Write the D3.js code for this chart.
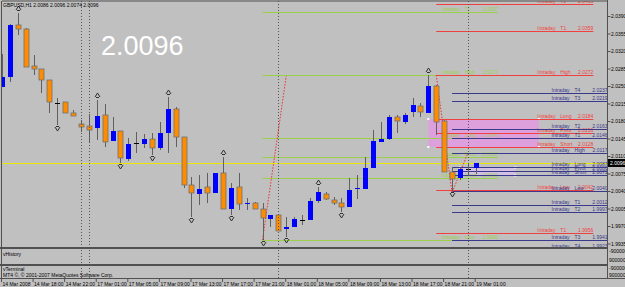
<html>
<head>
  <title>GBPUSD H1</title>
  <meta charset="utf-8" />
<script src="https://d3js.org/d3.v7.min.js"></script>
</head>
<style>
  body { margin: 0; background: #c0c0c0; }
  svg { display: block; font-family: "Liberation Sans", Arial, sans-serif; }
</style>
<body>
<svg class="main" width="625" height="287"></svg>
<script>

// H1 bars, 14 Mar 2008 14:00 .. 19 Mar 2008 01:00
const opens  = [2.0248,2.0268,2.0372,2.0364,2.0290,2.0284,2.0262,2.0216,2.0218,2.0196,2.0174,2.0170,2.0166,2.0192,2.0140,2.0160,2.0104,2.0136,2.0134,2.0144,2.0126,2.0156,2.0204,2.0148,2.0052,2.0034,2.0048,2.0036,2.0076,2.0004,2.0048,2.0014,2.0016,2.0004,1.9984,1.9992,1.9964,1.9968,1.9982,1.9982,2.0020,2.0034,2.0022,2.0016,2.0008,2.0045,2.0044,2.0086,2.0138,2.0144,2.0188,2.0178,2.0198,2.0210,2.0196,2.0250,2.0180,2.0078,2.0066,2.0084,2.0086]
const highs  = [2.0314,2.0374,2.0396,2.0366,2.0312,2.0284,2.0262,2.0226,2.0218,2.0202,2.0182,2.0194,2.0222,2.0214,2.0188,2.0160,2.0146,2.0158,2.0154,2.0156,2.0178,2.0228,2.0208,2.0148,2.0068,2.0072,2.0076,2.0076,2.0108,2.0056,2.0076,2.0026,2.0018,2.0016,1.9992,1.9994,1.9988,1.9988,1.9992,2.0026,2.0048,2.0038,2.0028,2.0026,2.0066,2.0072,2.0108,2.0162,2.0178,2.0192,2.0192,2.0196,2.0226,2.0216,2.0272,2.0252,2.0182,2.0088,2.0086,2.0094,2.0096]
const lows   = [2.0248,2.0258,2.0352,2.0288,2.0272,2.0236,2.0196,2.0172,2.0196,2.0190,2.0158,2.0136,2.0142,2.0128,2.0140,2.0096,2.0100,2.0116,2.0126,2.0112,2.0122,2.0116,2.0128,2.0046,1.9988,2.0012,2.0016,2.0036,2.0004,1.9992,2.0002,2.0002,2.0004,1.9942,1.9968,1.9960,1.9948,1.9968,1.9972,1.9982,2.0016,2.0022,2.0012,1.9998,2.0008,2.0024,2.0044,2.0086,2.0138,2.0142,2.0156,2.0174,2.0188,2.0188,2.0196,2.0152,2.0078,2.0040,2.0062,2.0070,2.0074]
const closes = [2.0268,2.0372,2.0364,2.0288,2.0284,2.0262,2.0218,2.0216,2.0196,2.0190,2.0168,2.0162,2.0190,2.0138,2.0160,2.0106,2.0134,2.0136,2.0144,2.0126,2.0156,2.0204,2.0148,2.0052,2.0036,2.0044,2.0036,2.0076,2.0004,2.0046,2.0014,2.0016,2.0004,1.9986,1.9992,1.9960,1.9968,1.9984,1.9982,2.0020,2.0038,2.0024,2.0016,2.0008,2.0042,2.0046,2.0086,2.0140,2.0144,2.0188,2.0180,2.0192,2.0212,2.0198,2.0250,2.0178,2.0078,2.0064,2.0084,2.0084,2.0096]

const fractalUp   = [2, 12, 21, 28, 40, 54]
const fractalDown = [7, 15, 19, 24, 29, 33, 36, 43, 57]
const separators  = [10, 11, 35, 59]

const timeTicks  = [0, 4, 8, 12, 16, 20, 24, 28, 32, 36, 40, 44, 48, 52, 56, 60]
const timeLabels = ["14 Mar 2008","14 Mar 18:00","14 Mar 22:00","17 Mar 01:00","17 Mar 05:00","17 Mar 09:00","17 Mar 13:00","17 Mar 17:00","17 Mar 21:00","18 Mar 01:00","18 Mar 05:00","18 Mar 09:00","18 Mar 13:00","18 Mar 17:00","18 Mar 21:00","19 Mar 01:00"]
const priceTicks = [2.0390, 2.0355, 2.0320, 2.0285, 2.0250, 2.0215, 2.0180, 2.0145, 2.0110, 2.0075, 2.0040, 2.0005, 1.9970, 1.9935]

// pivot levels: previous range (green), yesterday (red), today (blue)
const greenNames  = ["T1", "High", "Long", "Pivot", "Short", "Low"]
const greenPrices = [2.0397, 2.0272, 2.0146, 2.0107, 2.0066, 1.9942]
const redNames    = ["T2", "T1", "High", "Long", "Pivot", "Short", "Low", "T1"]
const redPrices   = [2.0413, 2.0359, 2.0272, 2.0184, 2.0156, 2.0128, 2.0042, 1.9956]
const blueNames   = ["T4", "T3", "T2", "T1", "High", "Long", "Pivot", "Short", "Low", "T1", "T2", "T3", "T4"]
const bluePrices  = [2.0237, 2.0219, 2.0163, 2.0146, 2.0117, 2.0087, 2.0080, 2.0071, 2.0040, 2.0012, 1.9997, 1.9941, 1.9923]

const zigzag1 = [[33, 1.9942], [36, 2.0270]]
const zigzag2 = [[55, 2.0272], [57, 2.0036], [59, 2.0116]]

const bid = 2.0096
const header = "GBPUSD,H1  2.0086 2.0096 2.0074 2.0096"

const L = 2, R = 607, T = 1, B = 247
const fs = "5px"

const svg = d3.select("svg")
const x = d3.scaleLinear().domain([0, 60]).range([2, 475.7])
const y = d3.scaleLinear().domain([1.9928, 2.0422]).range([B, 0])

svg.append("defs").append("clipPath").attr("id", "clipMain")
  .append("rect").attr("x", L).attr("y", T).attr("width", R - L).attr("height", B - T)

const main = svg.append("g").attr("clip-path", "url(#clipMain)")

// big bid text
main.append("text")
  .attr("x", 101).attr("y", 55)
  .style("font-size", "27px").style("fill", "#fff")
  .text(d3.format(".4f")(bid))

// period separators
svg.selectAll("line.sep")
  .data(separators)
  .enter()
  .append("line")
  .attr("x1", d => Math.round(x(d)) + 0.5)
  .attr("x2", d => Math.round(x(d)) + 0.5)
  .attr("y1", T).attr("y2", 278)
  .style("stroke", "#555")
  .style("stroke-dasharray", "1,2")

// level boxes
const box1 = { from: 54, to: 68, top: 2.0184, bottom: 2.0128 }
const box2 = { from: 58, to: 65, top: 2.0087, bottom: 2.0071 }
main.append("rect")
  .attr("x", x(box1.from)).attr("width", x(box1.to) - x(box1.from))
  .attr("y", y(box1.top)).attr("height", y(box1.bottom) - y(box1.top))
  .style("fill", "#dda0dd")
main.append("rect")
  .attr("x", x(box2.from)).attr("width", x(box2.to) - x(box2.from))
  .attr("y", y(box2.top)).attr("height", y(box2.bottom) - y(box2.top))
  .style("fill", "#d4c0e4")
const corners = [[box1.from, box1.top], [box1.to, box1.top], [box1.from, box1.bottom], [box1.to, box1.bottom],
                 [box2.from, box2.top], [box2.to, box2.top], [box2.from, box2.bottom], [box2.to, box2.bottom]]
main.selectAll("rect.corner")
  .data(corners)
  .enter()
  .append("rect")
  .attr("x", d => x(d[0]) - 1).attr("y", d => y(d[1]) - 1)
  .attr("width", 2).attr("height", 2)
  .style("fill", "#fff")

// bid line
main.append("line")
  .attr("x1", L).attr("x2", R)
  .attr("y1", Math.round(y(bid)) + 0.5).attr("y2", Math.round(y(bid)) + 0.5)
  .style("stroke", "#e8e800")

function levels(names, prices, from, to, color, cls) {
  const g = main.append("g").attr("class", cls)
  const ex = x(to)
  g.selectAll("line")
    .data(prices)
    .enter()
    .append("line")
    .attr("x1", x(from)).attr("x2", ex)
    .attr("y1", d => Math.round(y(d)) + 0.5)
    .attr("y2", d => Math.round(y(d)) + 0.5)
    .style("stroke", color)
  const t = g.selectAll("g.lab")
    .data(prices)
    .enter()
    .append("g")
    .attr("transform", d => `translate(0,${Math.round(y(d)) - 1})`)
    .style("font-size", fs)
    .style("fill", color)
  t.append("text").attr("x", ex - 56).text("Intraday")
  t.append("text").attr("x", ex - 33).text((d, i) => names[i])
  t.append("text").attr("x", ex).attr("text-anchor", "end").text(d => d3.format(".4f")(d))
}

levels(greenNames, greenPrices, 33, 62.8, "#9ad04a", "green")
levels(redNames, redPrices, 55, 74.9, "#f04040", "red")
levels(blueNames, bluePrices, 57, 76.7, "#3a3a8c", "blue")

// zigzag
const zz = d3.line().x(d => x(d[0])).y(d => y(d[1]))
;[zigzag1, zigzag2].forEach(z => {
  main.append("path")
    .attr("d", zz(z))
    .style("fill", "none")
    .style("stroke", "#f03030")
    .style("stroke-dasharray", "1.5,1.5")
})

// candles
const bars = main.selectAll("g.bar")
  .data(opens)
  .enter()
  .append("g")
  .attr("class", "bar")

bars.append("line")
  .attr("x1", (d, i) => Math.round(x(i)) + 0.5)
  .attr("x2", (d, i) => Math.round(x(i)) + 0.5)
  .attr("y1", (d, i) => y(highs[i]))
  .attr("y2", (d, i) => y(lows[i]))
  .style("stroke", "#606060")

bars.append("rect")
  .attr("x", (d, i) => Math.round(x(i)) - 2)
  .attr("width", 5)
  .attr("y", (d, i) => Math.min(y(opens[i]), y(closes[i])))
  .attr("height", (d, i) => Math.max(1, Math.abs(y(opens[i]) - y(closes[i]))))
  .style("fill", (d, i) => closes[i] > opens[i] ? "#0000ff" : closes[i] < opens[i] ? "#ff8c00" : "#000")
  .style("stroke", (d, i) => closes[i] < opens[i] ? "#707070" : "none")
  .style("stroke-width", 0.8)

// fractals
main.selectAll("path.fu")
  .data(fractalUp)
  .enter()
  .append("path")
  .attr("transform", d => `translate(${Math.round(x(d)) + 0.5},${y(highs[d]) - 5})`)
  .attr("d", "M-2.5,2 L0,-2 L2.5,2 M-1.5,2.5 L1.5,2.5")
  .style("fill", "none").style("stroke", "#303030").style("stroke-width", 1)

main.selectAll("path.fd")
  .data(fractalDown)
  .enter()
  .append("path")
  .attr("transform", d => `translate(${Math.round(x(d)) + 0.5},${y(lows[d]) + 4})`)
  .attr("d", "M-2.5,-2 L0,2 L2.5,-2 M-1.5,-2.5 L1.5,-2.5")
  .style("fill", "none").style("stroke", "#303030").style("stroke-width", 1)

// header
svg.append("text").attr("x", 3).attr("y", 7)
  .style("font-size", fs).style("fill", "#000")
  .text(header)

// frames and sub windows
const frame = svg.append("g").style("stroke", "#505050").style("fill", "none")
frame.append("line").attr("x1", L).attr("x2", R).attr("y1", 1).attr("y2", 1)
frame.append("line").attr("x1", 1.5).attr("x2", 1.5).attr("y1", 1).attr("y2", 278)
frame.append("line").attr("x1", 0).attr("x2", R).attr("y1", 248).attr("y2", 248).style("stroke-width", 2)
frame.append("line").attr("x1", 0).attr("x2", R).attr("y1", 265).attr("y2", 265).style("stroke-width", 2)
frame.append("line").attr("x1", 0).attr("x2", 625).attr("y1", 278.5).attr("y2", 278.5)

svg.append("text").attr("x", 3).attr("y", 256).style("font-size", fs).text("vHistory")
svg.append("text").attr("x", 3).attr("y", 271).style("font-size", fs).text("vTerminal")
svg.append("text").attr("x", 3).attr("y", 276.5).style("font-size", fs).text("MT4 ©, © 2001-2007 MetaQuotes Software Corp.")

// price axis
const yAxis = d3.axisRight(y)
  .tickValues(priceTicks)
  .tickFormat(d3.format(".4f"))
  .tickSize(3)
  .tickSizeOuter(0)
const ya = svg.append("g").attr("transform", `translate(${R + 0.5},0)`).call(yAxis)
ya.select(".domain").attr("d", `M0,0V278`).style("stroke", "#505050")
ya.selectAll(".tick line").style("stroke", "#505050")
ya.selectAll(".tick text").attr("x", 3.5).style("font-size", fs).style("font-family", "Liberation Sans, Arial")

const subLabels = [["-900000", 251], ["900000", 260], ["-900000", 268], ["900000", 275]]
svg.selectAll("text.sub")
  .data(subLabels)
  .enter()
  .append("text")
  .attr("x", 609).attr("y", d => d[1] + 2)
  .style("font-size", fs)
  .text(d => d[0])

// bid label
const by = Math.round(y(bid))
svg.append("rect").attr("x", 608).attr("y", by - 4).attr("width", 17).attr("height", 8).style("fill", "#000")
svg.append("text").attr("x", 610).attr("y", by + 2).style("font-size", fs).style("fill", "#fff")
  .text(d3.format(".4f")(bid))

// time axis
const xAxis = d3.axisBottom(x)
  .tickValues(timeTicks)
  .tickFormat((d, i) => timeLabels[i])
  .tickSize(3)
  .tickSizeOuter(0)
const xa = svg.append("g").attr("transform", "translate(-1,279)").call(xAxis)
xa.select(".domain").remove()
xa.selectAll(".tick line").style("stroke", "#505050")
xa.selectAll(".tick text").attr("text-anchor", "start").attr("x", 1).attr("y", 3)
  .style("font-size", fs).style("font-family", "Liberation Sans, Arial")

</script>
</body>
</html>
